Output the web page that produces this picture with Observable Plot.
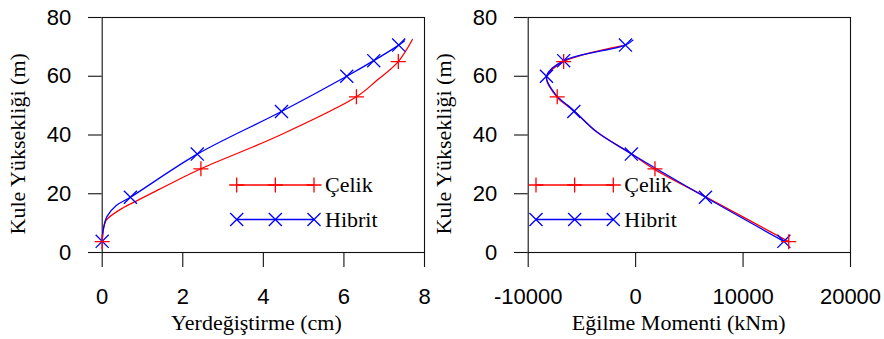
<!DOCTYPE html>
<html><head><meta charset="utf-8">
<script src="https://cdn.jsdelivr.net/npm/d3@7"></script>
<script src="https://cdn.jsdelivr.net/npm/@observablehq/plot@0.6"></script>
<style>
html,body{margin:0;padding:0;background:#fff;}
#wrap{position:relative;width:884px;height:339px;overflow:hidden;background:#fff;}
#wrap svg{position:absolute;top:0;overflow:visible;}
</style></head><body><div id="wrap"></div>
<script>
// ---------- data ----------
const seriesNames = ["Çelik", "Hibrit"];
const yTicks = [0, 20, 40, 60, 80];
const dispTicks = [0, 2, 4, 6, 8];
const momentTicks = [-10000, 0, 10000, 20000];

// Left panel: displacement (cm) vs tower height (m)
const steelDispLineH = [3.7, 8, 11, 15.4, 17.4, 22.3, 28.5, 40, 53, 58.6, 65, 72.5];
const steelDispLineX = [0, 0.03, 0.1, 0.54, 0.83, 1.53, 2.45, 4.42, 6.31, 6.82, 7.35, 7.7];
const hybDispLineH = [3.8, 8, 12.3, 16, 18.8, 33.5, 48, 60, 65.3, 70.6, 72];
const hybDispLineX = [0, 0.03, 0.12, 0.35, 0.7, 2.36, 4.45, 6.07, 6.74, 7.36, 7.5];

// Right panel: bending moment (kNm) vs tower height (m)
const steelMomLineH = [3.7, 18.8, 28.2, 33.6, 41, 48.3, 52.8, 59.6, 65, 70.6];
const steelMomLineX = [14250, 6600, 1800, -400, -3600, -5750, -7300, -8300, -6700, -950];
const hybMomLineH = [3.8, 18.8, 33.6, 41, 48.3, 54, 60, 65.3, 70.6, 72.3];
const hybMomLineX = [13800, 6500, -400, -3600, -5750, -7500, -8300, -6700, -950, -250];

// Marker positions
const steelMarkH = [3.7, 28.5, 53, 65];
const steelMarkDisp = [0, 2.45, 6.31, 7.35];
const steelMarkMom = [14250, 1800, -7300, -6700];
const hybMarkH = [3.8, 18.8, 33.5, 48, 60, 65.3, 70.6];
const hybMarkDisp = [0, 0.7, 2.36, 4.45, 6.07, 6.74, 7.36];
const hybMarkMom = [13800, 6500, -400, -5750, -8300, -6700, -950];

const yLabel = "Kule Yüksekliği (m)";
const dispLabel = "Yerdeğiştirme (cm)";
const momLabel = "Eğilme Momenti (kNm)";

// ---------- style ----------
const SANS = "'Liberation Sans', Arial, sans-serif";
const SERIF = "'Liberation Serif', 'Times New Roman', serif";
const RED = "#ff0000", BLUE = "#0000ff";
const colors = [RED, BLUE];
const symbols = ["plus", "times"];
const symR = [4.9, 6.0];

const toRows = (xs, hs) => xs.map((x, i) => ({x, h: hs[i]}));

function panel({width, left, marginLeft, marginRight, xDomain, xTicks, xLabel, xLabelDx,
                lines, marks, legendX}) {
  const svg = Plot.plot({
    width, height: 339,
    marginLeft, marginRight, marginTop: 17, marginBottom: 87,
    style: {background: "transparent", color: "black", fontFamily: SANS, fontSize: "22px", overflow: "visible"},
    x: {domain: xDomain},
    y: {domain: [0, 80]},
    marks: [
      Plot.frame({stroke: "#111", strokeWidth: 1.1}),
      Plot.axisX({ticks: xTicks, tickSize: 15, tickPadding: 21, label: null,
                  tickFormat: d => String(d), fontSize: 22, fontFamily: SANS, stroke: "#111", strokeWidth: 1.1}),
      Plot.axisY({ticks: yTicks, tickSize: 13.7, tickPadding: 17.3, label: null,
                  tickFormat: d => String(d), fontSize: 22, fontFamily: SANS, stroke: "#111", strokeWidth: 1.1}),
      Plot.text([xLabel], {frameAnchor: "bottom", dx: xLabelDx, dy: 70, lineAnchor: "middle", textAnchor: "middle",
                  fontFamily: SERIF, fontSize: 22, fill: "black"}),
      Plot.text([yLabel], {frameAnchor: "left", rotate: -90, dx: -84.7, dy: 8.8, lineAnchor: "middle", textAnchor: "middle",
                  fontFamily: SERIF, fontSize: 22, fill: "black"}),
      ...lines.map((rows, i) => Plot.line(rows, {x: "x", y: "h", stroke: colors[i], strokeWidth: 1.3, curve: "catmull-rom"})),
      Plot.dot(marks[1], {x: "x", y: "h", symbol: symbols[1], r: symR[1], stroke: BLUE, strokeWidth: 1.3, fill: "none"}),
      Plot.dot(marks[0], {x: "x", y: "h", symbol: symbols[0], r: symR[0], stroke: RED, strokeWidth: 1.3, fill: "none"})
    ]
  });
  svg.style.left = left + "px";
  // legend
  const g = d3.select(svg).append("g").attr("class", "legend");
  const rowY = [185, 219.5];
  const lineLen = 77.3;
  seriesNames.forEach((name, i) => {
    const y = rowY[i];
    g.append("line").attr("x1", legendX).attr("x2", legendX + lineLen)
      .attr("y1", y).attr("y2", y).attr("stroke", colors[i]).attr("stroke-width", 1.3);
    const sym = d3.symbol(i === 0 ? d3.symbolPlus : d3.symbolTimes, Math.PI * symR[i] ** 2);
    [0, 0.5, 1].forEach(f => {
      g.append("path").attr("d", sym()).attr("transform", `translate(${legendX + f * lineLen},${y})`)
        .attr("fill", "none").attr("stroke", colors[i]).attr("stroke-width", 1.3);
    });
    g.append("text").attr("x", legendX + lineLen + 11).attr("y", y).attr("dy", "0.32em")
      .attr("text-anchor", "start")
      .attr("font-family", SERIF).attr("font-size", 22).attr("fill", "black").text(name);
  });
  return svg;
}

const wrap = document.getElementById("wrap");
wrap.appendChild(panel({
  width: 432, left: 0, marginLeft: 101.7, marginRight: 8,
  xDomain: [0, 8], xTicks: dispTicks, xLabel: dispLabel, xLabelDx: -6.9,
  lines: [toRows(steelDispLineX, steelDispLineH), toRows(hybDispLineX, hybDispLineH)],
  marks: [toRows(steelMarkDisp, steelMarkH), toRows(hybMarkDisp, hybMarkH)],
  legendX: 236.7
}));
wrap.appendChild(panel({
  width: 452, left: 432, marginLeft: 95.7, marginRight: 34,
  xDomain: [-10000, 20000], xTicks: momentTicks, xLabel: momLabel, xLabelDx: -10.6,
  lines: [toRows(steelMomLineX, steelMomLineH), toRows(hybMomLineX, hybMomLineH)],
  marks: [toRows(steelMarkMom, steelMarkH), toRows(hybMarkMom, hybMarkH)],
  legendX: 104
}));
</script></body></html>
